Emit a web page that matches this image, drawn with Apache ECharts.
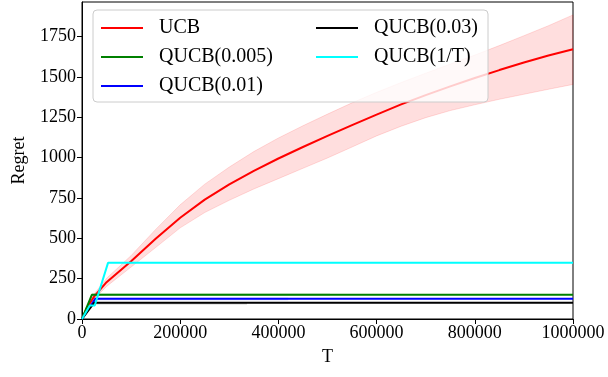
<!DOCTYPE html>
<html>
<head>
<meta charset="utf-8">
<script src="https://cdn.jsdelivr.net/npm/echarts@6/dist/echarts.min.js"></script>
<style>
  html, body { margin: 0; padding: 0; background: #fff; }
  #chart { width: 608px; height: 377px; }
</style>
</head>
<body>
<div id="chart"></div>
<script>
// 横轴 T
const T = [0, 10000, 25000, 50000, 100000, 150000, 200000, 250000, 300000, 350000, 400000, 450000,
  500000, 550000, 600000, 650000, 700000, 750000, 800000, 850000, 900000, 950000, 1000000];
// UCB 均值 / 上下界
const ucbMean = [0, 70, 140, 228, 358, 497, 628, 740, 835, 918, 995, 1066, 1135, 1202, 1267,
  1330, 1388, 1442, 1494, 1543, 1590, 1633, 1672];
const ucbUpper = [0, 78, 156, 252, 393, 555, 708, 836, 942, 1038, 1122, 1198, 1270, 1340, 1405,
  1466, 1524, 1580, 1636, 1695, 1756, 1818, 1885];
const ucbLower = [0, 62, 125, 202, 322, 443, 565, 660, 736, 806, 870, 934, 998, 1066, 1135,
  1195, 1248, 1292, 1328, 1362, 1393, 1424, 1454];

// QUCB 曲线
const q005T = [0, 20000, 1000000];
const q005 = [0, 150, 150];
const q01T = [0, 27000, 1000000];
const q01 = [0, 125, 125];
const q03T = [0, 25000, 1000000];
const q03 = [0, 101, 101];
const q1T = [0, 16000, 26000, 53000, 1000000];
const q1 = [0, 84, 84, 348, 348];

// QUCB 阴影带 (T, 下界, 上界)
const q005BandT = [20000, 505000];
const q005BandLo = [143, 143];
const q005BandHi = [158, 158];
const q01BandT = [27000, 420000];
const q01BandLo = [117, 117];
const q01BandHi = [132, 132];
const q03BandT = [25000, 336000];
const q03BandLo = [90, 90];
const q03BandHi = [106, 106];

const yTicks = [0, 250, 500, 750, 1000, 1250, 1500, 1750];

const font = 'Liberation Serif';

function pairs(xs, ys) {
  return xs.map((x, i) => [x, ys[i]]);
}

// 阴影带：custom 多边形，坐标由 api.coord 换算
function band(id, xs, lo, hi, color, alpha, edge) {
  return {
    type: 'custom', name: id, silent: true, z: 1,
    data: xs.map((x, i) => [x, lo[i], hi[i]]),
    encode: { x: 0, y: [1, 2] },
    renderItem: function(params, api) {
      if (params.dataIndex !== 0) return null;
      const top = xs.map((x, i) => api.coord([x, hi[i]]));
      const bot = xs.map((x, i) => api.coord([x, lo[i]])).reverse();
      return {
        type: 'polygon',
        shape: { points: top.concat(bot) },
        style: {
          fill: color, opacity: alpha,
          stroke: edge ? color : null, lineWidth: edge ? 1 : 0
        }
      };
    }
  };
}

function line(name, xs, ys, color) {
  return {
    type: 'line', name: name, symbol: 'none',
    data: pairs(xs, ys),
    itemStyle: { color: color },
    lineStyle: { width: 2, color: color },
    z: 3
  };
}

const legendCommon = {
  orient: 'vertical',
  top: 18,
  padding: 0,
  itemWidth: 42,
  itemHeight: 2,
  itemGap: 9,
  icon: 'rect',
  itemStyle: { borderWidth: 0 },
  textStyle: { fontFamily: font, fontSize: 20, color: '#000', padding: [0, 0, 0, 11] },
  z: 20
};

const chart = echarts.init(document.getElementById('chart'));
chart.setOption({
  animation: false,
  backgroundColor: '#fff',
  grid: {
    left: 82, right: 35, top: 2, bottom: 58,
    show: true, borderColor: '#000', borderWidth: 1
  },
  graphic: [{
    type: 'rect', z: 10,
    shape: { x: 93, y: 10, width: 395, height: 92, r: 4 },
    style: { fill: 'rgba(255,255,255,0.8)', stroke: '#cccccc', lineWidth: 1 }
  }],
  legend: [
    Object.assign({ left: 101, data: ['UCB', 'QUCB(0.005)', 'QUCB(0.01)'] }, legendCommon),
    Object.assign({ left: 316, data: ['QUCB(0.03)', 'QUCB(1/T)'] }, legendCommon)
  ],
  xAxis: {
    type: 'value', min: 0, max: 1000000, interval: 200000,
    name: 'T', nameLocation: 'middle', nameGap: 29,
    nameTextStyle: { fontFamily: font, fontSize: 18, color: '#000' },
    axisLine: { show: true, lineStyle: { color: '#000', width: 1 } },
    axisTick: { show: true, length: 5, lineStyle: { color: '#000' } },
    axisLabel: { fontFamily: font, fontSize: 18, color: '#000', margin: 5, formatter: v => String(v) },
    splitLine: { show: false }
  },
  yAxis: {
    type: 'value', min: 0, max: 1965,
    name: 'Regret', nameLocation: 'middle', nameGap: 54, nameRotate: 90,
    nameTextStyle: { fontFamily: font, fontSize: 18, color: '#000' },
    axisLine: { show: true, lineStyle: { color: '#000', width: 1 } },
    axisTick: { show: true, length: 5, lineStyle: { color: '#000' }, customValues: yTicks },
    axisLabel: { fontFamily: font, fontSize: 18, color: '#000', margin: 6, customValues: yTicks, formatter: v => String(v) },
    splitLine: { show: false }
  },
  series: [
    band('ucbBand', T, ucbLower, ucbUpper, '#ff0000', 0.13, true),
    band('q005Band', q005BandT, q005BandLo, q005BandHi, '#008000', 0.2, false),
    band('q01Band', q01BandT, q01BandLo, q01BandHi, '#0000ff', 0.2, false),
    band('q03Band', q03BandT, q03BandLo, q03BandHi, '#000000', 0.2, false),
    line('UCB', T, ucbMean, '#ff0000'),
    line('QUCB(0.005)', q005T, q005, '#008000'),
    line('QUCB(0.01)', q01T, q01, '#0000ff'),
    line('QUCB(0.03)', q03T, q03, '#000000'),
    line('QUCB(1/T)', q1T, q1, '#00ffff')
  ]
});
</script>
</body>
</html>
